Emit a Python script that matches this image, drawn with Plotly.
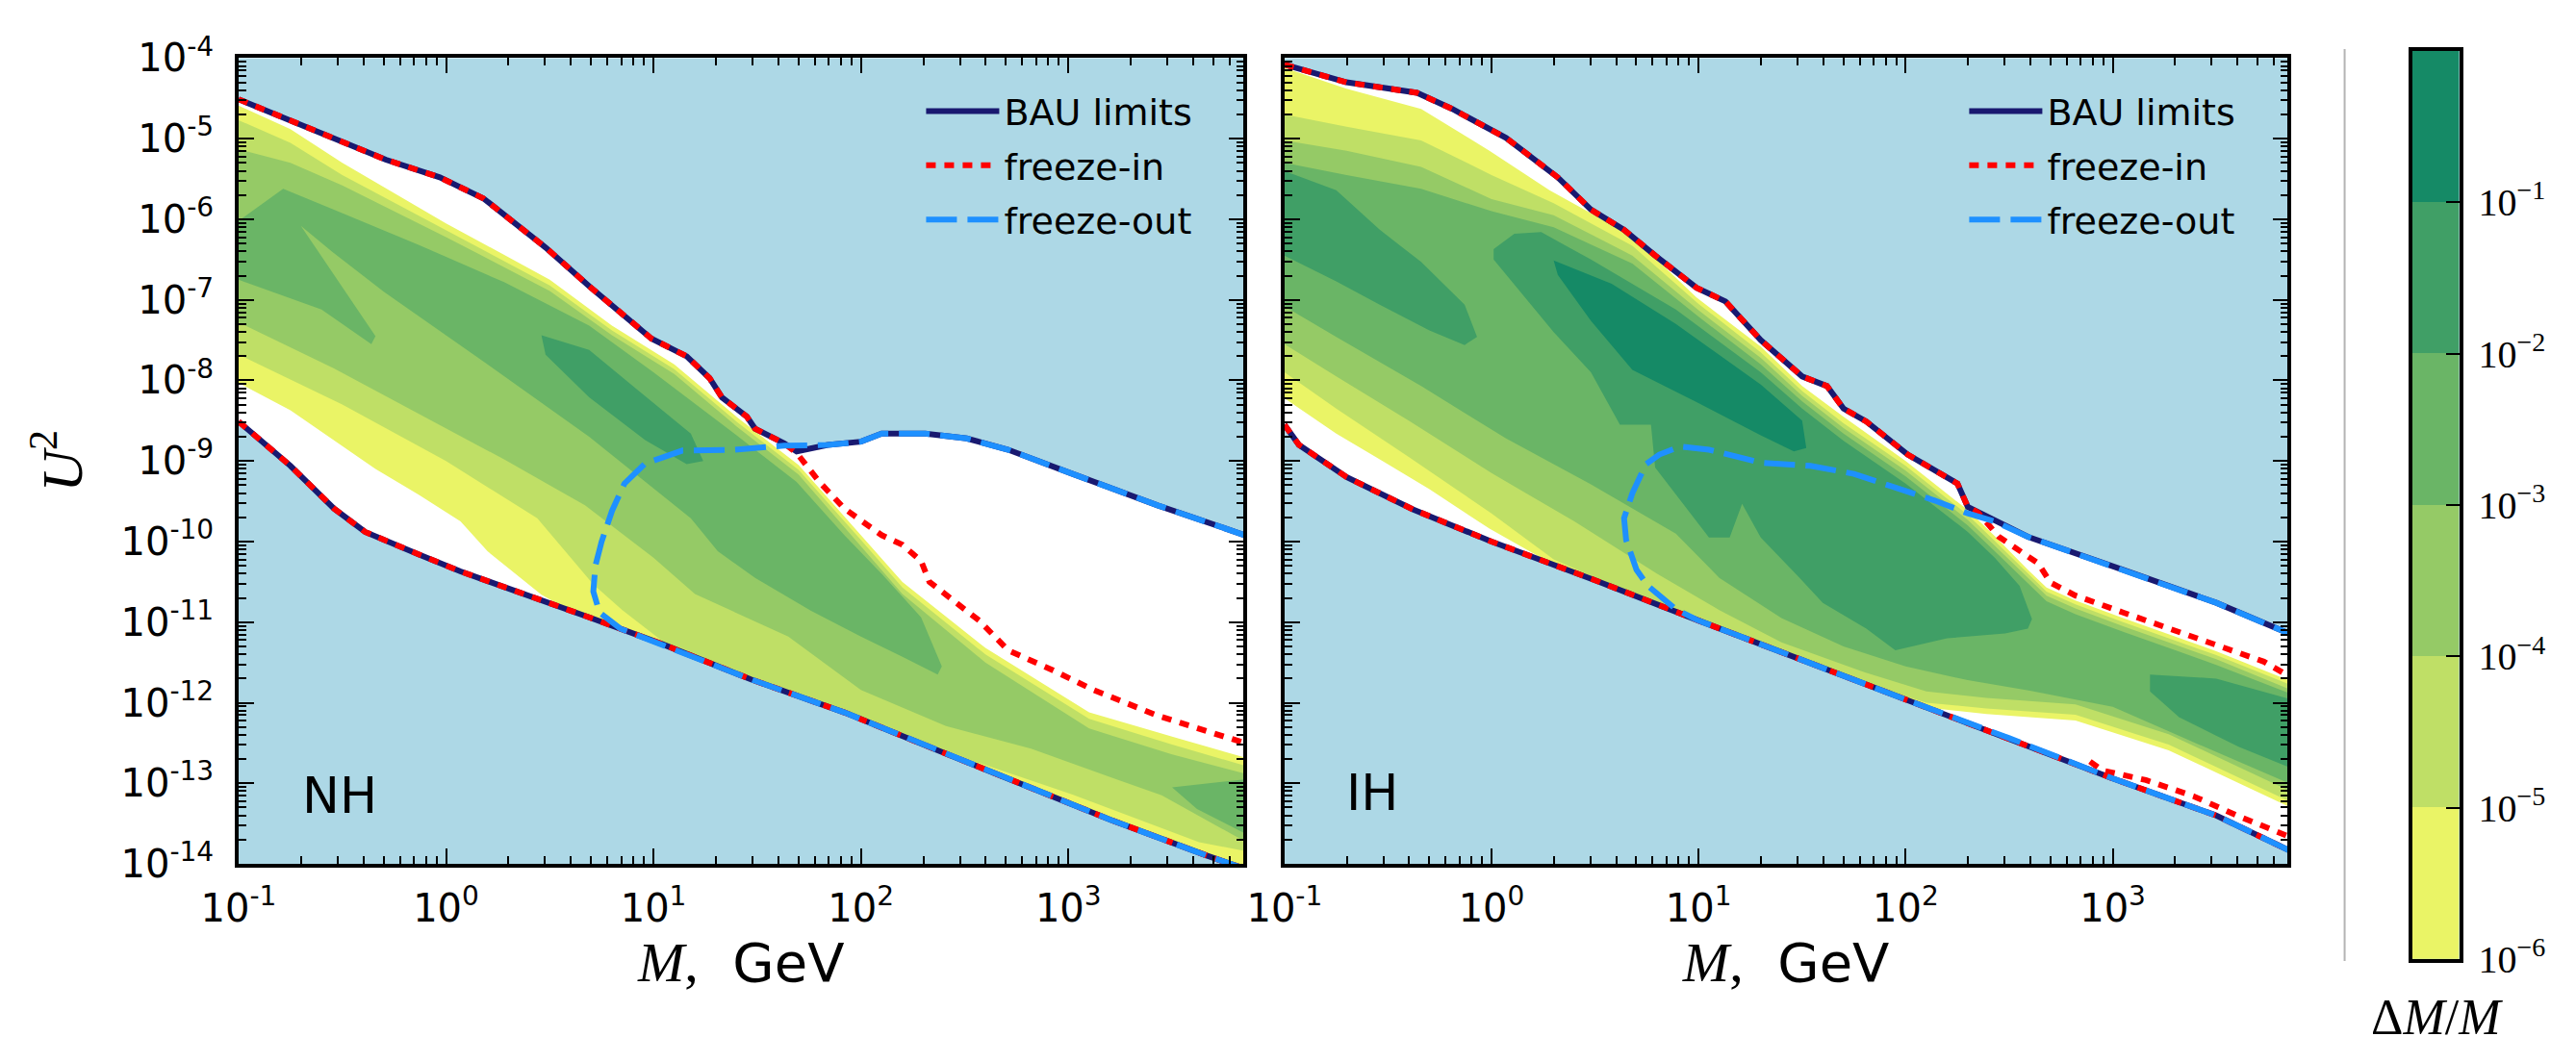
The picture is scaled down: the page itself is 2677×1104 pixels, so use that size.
import math
import plotly.graph_objects as go

# All curve / region vertices are given as (log10 M[GeV], log10 U^2)

# ---------------- Normal hierarchy (NH) ----------------
NH_BAU_UPPER = [(-1.00, -4.51), (-0.75, -4.77), (-0.29, -5.26), (-0.03, -5.48), (0.18, -5.74),
                (0.48, -6.35), (0.69, -6.83), (0.99, -7.48), (1.16, -7.70), (1.27, -7.97),
                (1.33, -8.21), (1.45, -8.45), (1.49, -8.60), (1.63, -8.78), (1.69, -8.88),
                (1.84, -8.80), (2.00, -8.76), (2.10, -8.66), (2.31, -8.66), (2.51, -8.72),
                (2.71, -8.86), (3.02, -9.16), (3.43, -9.55), (3.85, -9.92)]
NH_BAU_LOWER = [(-1.00, -8.51), (-0.75, -9.06), (-0.54, -9.59), (-0.39, -9.88), (-0.13, -10.16),
                (0.07, -10.37), (0.69, -10.94), (1.04, -11.27), (1.47, -11.71), (1.92, -12.12),
                (2.35, -12.57), (2.78, -13.01), (3.20, -13.45), (3.67, -13.90), (3.85, -14.06)]
NH_FREEZE_IN_BRANCH = [(1.69, -8.90), (1.80, -9.26), (1.92, -9.59), (2.10, -9.92), (2.20, -10.04),
                       (2.29, -10.24), (2.33, -10.50), (2.47, -10.78), (2.57, -10.98), (2.71, -11.35),
                       (2.92, -11.59), (3.12, -11.84), (3.43, -12.16), (3.85, -12.50)]
NH_FREEZE_OUT_ARC = [(0.84, -11.08), (0.74, -10.88), (0.71, -10.62), (0.72, -10.30), (0.75, -10.00),
                     (0.80, -9.62), (0.86, -9.28), (0.96, -9.03), (1.14, -8.87), (1.39, -8.86),
                     (1.63, -8.81), (1.84, -8.80)]

# regions with Delta M / M above 1e-6, 1e-5, ... (nested bands)
NH_BAND_1 = [(-1.00, -4.59), (-0.75, -4.88), (-0.50, -5.30), (0.00, -6.05), (0.50, -6.75), (0.80, -7.32),
             (1.10, -7.80), (1.40, -8.45), (1.70, -9.05), (2.00, -9.92), (2.20, -10.50), (2.60, -11.32),
             (3.10, -12.12), (3.50, -12.42), (3.85, -12.68),
             (3.85, -14.06), (3.67, -13.90), (3.20, -13.45), (2.78, -13.01), (2.35, -12.57), (1.92, -12.12),
             (1.47, -11.71), (1.04, -11.27), (0.69, -10.94), (0.60, -10.86), (0.46, -10.66), (0.20, -10.12),
             (0.07, -9.75), (-0.13, -9.42), (-0.34, -9.10), (-0.54, -8.74), (-0.75, -8.37), (-1.00, -8.03)]
NH_BAND_2 = [(-1.00, -4.77), (-0.75, -5.05), (-0.50, -5.45), (0.00, -6.13), (0.50, -6.82), (0.80, -7.38),
             (1.10, -7.86), (1.40, -8.51), (1.70, -9.11), (2.00, -9.98), (2.20, -10.57), (2.60, -11.40),
             (3.10, -12.20), (3.50, -12.52), (3.85, -12.78),
             (3.85, -13.84), (3.63, -13.73), (3.02, -13.14), (2.55, -12.73), (2.35, -12.53), (1.92, -12.08),
             (1.47, -11.67), (1.04, -11.23), (0.85, -10.85), (0.71, -10.53), (0.44, -9.71), (0.00, -9.00),
             (-0.50, -8.30), (-1.00, -7.68)]
NH_BAND_3 = [(-1.00, -5.13), (-0.75, -5.30), (-0.50, -5.58), (0.00, -6.22), (0.50, -6.89), (0.80, -7.44),
             (1.10, -7.92), (1.40, -8.57), (1.70, -9.17), (2.00, -10.05), (2.20, -10.65), (2.60, -11.50),
             (3.10, -12.32), (3.50, -12.64), (3.85, -12.88),
             (3.85, -13.72), (3.45, -13.15), (3.22, -12.94), (2.82, -12.57), (2.41, -12.29), (2.00, -11.84),
             (1.65, -11.18), (1.20, -10.65), (1.00, -10.20), (0.80, -9.80), (0.67, -9.55), (0.28, -8.98),
             (-0.13, -8.42), (-0.54, -7.85), (-1.00, -7.28)]
NH_BAND_4 = [(-1.00, -6.02), (-0.785, -5.62), (-0.54, -5.88), (-0.13, -6.32), (0.28, -6.78), (0.69, -7.32),
             (1.00, -7.90), (1.39, -8.66), (1.69, -9.26), (1.92, -9.92), (2.10, -10.40), (2.29, -10.94),
             (2.39, -11.55), (2.37, -11.65), (2.20, -11.43), (2.00, -11.18), (1.76, -10.86), (1.49, -10.45),
             (1.31, -10.12), (1.18, -9.71), (0.69, -8.70), (0.20, -7.80), (-0.30, -6.90), (-0.55, -6.40),
             (-0.70, -6.08), (-0.50, -6.85), (-0.34, -7.45), (-0.36, -7.55), (-0.60, -7.12), (-1.00, -6.75)]
NH_BAND_4B = [(3.50, -13.05), (3.85, -12.95), (3.85, -13.62), (3.62, -13.32)]
NH_BAND_5 = [(0.46, -7.44), (0.69, -7.62), (0.93, -8.13), (1.18, -8.66), (1.24, -9.00), (1.16, -9.04),
             (0.96, -8.74), (0.69, -8.21), (0.48, -7.68)]

# ---------------- Inverted hierarchy (IH) ----------------
IH_BAU_UPPER = [(-1.00, -4.08), (-0.70, -4.30), (-0.36, -4.43), (-0.19, -4.63), (0.07, -4.99),
                (0.32, -5.48), (0.48, -5.88), (0.64, -6.13), (0.79, -6.45), (0.99, -6.85),
                (1.13, -7.02), (1.30, -7.50), (1.50, -7.95), (1.62, -8.07), (1.70, -8.35),
                (1.81, -8.51), (2.01, -8.92), (2.25, -9.28), (2.30, -9.57), (2.43, -9.73),
                (2.59, -9.94), (3.05, -10.35), (3.50, -10.76), (3.85, -11.14)]
IH_BAU_LOWER = [(-1.00, -8.55), (-0.93, -8.80), (-0.70, -9.20), (-0.38, -9.60), (0.00, -10.00),
                (0.50, -10.48), (1.00, -10.98), (1.50, -11.47), (2.00, -11.96), (2.50, -12.44),
                (3.00, -12.94), (3.50, -13.40), (3.85, -13.83)]
IH_FREEZE_IN_BRANCH = [(2.35, -9.64), (2.45, -9.94), (2.64, -10.27), (2.70, -10.51), (2.82, -10.67),
                       (3.05, -10.88), (3.27, -11.08), (3.50, -11.29), (3.73, -11.49), (3.85, -11.67)]
IH_FREEZE_IN_LOW = [(2.89, -12.73), (2.95, -12.84), (3.16, -12.96), (3.39, -13.16), (3.61, -13.41),
                    (3.85, -13.66)]
IH_FREEZE_OUT_ARC = [(0.99, -10.97), (0.89, -10.84), (0.81, -10.67), (0.755, -10.55), (0.70, -10.35),
                     (0.65, -9.98), (0.64, -9.71), (0.68, -9.40), (0.745, -9.04), (0.81, -8.92),
                     (0.91, -8.82), (1.05, -8.86), (1.30, -9.02), (1.54, -9.06), (1.75, -9.16),
                     (1.91, -9.30), (2.14, -9.49), (2.30, -9.65), (2.43, -9.75)]

IH_BAND_1 = [(-1.00, -4.12), (-0.70, -4.38), (-0.34, -4.63), (-0.01, -5.15), (0.28, -5.64), (0.68, -6.21),
             (0.99, -6.97), (1.30, -7.58), (1.50, -8.07), (1.70, -8.45), (2.00, -9.00), (2.14, -9.28),
             (2.30, -9.61), (2.43, -9.93), (2.59, -10.35), (2.68, -10.57), (2.82, -10.73), (3.05, -10.95),
             (3.27, -11.15), (3.50, -11.36), (3.85, -11.72),
             (3.85, -13.29), (3.61, -13.00), (3.27, -12.59), (2.82, -12.22), (2.39, -12.14), (2.10, -12.06),
             (1.95, -11.92), (1.50, -11.47), (1.00, -10.98), (0.50, -10.48), (0.30, -10.29), (-0.01, -9.84),
             (-0.30, -9.35), (-0.54, -8.98), (-0.75, -8.66), (-1.00, -8.22)]
IH_BAND_2 = [(-1.00, -4.70), (-0.70, -4.85), (-0.34, -5.02), (0.00, -5.45), (0.30, -5.80), (0.68, -6.33),
             (1.00, -7.05), (1.30, -7.65), (1.50, -8.13), (1.70, -8.53), (2.00, -9.06), (2.14, -9.34),
             (2.30, -9.67), (2.43, -9.99), (2.59, -10.40), (2.68, -10.62), (2.82, -10.78), (3.05, -11.00),
             (3.27, -11.20), (3.50, -11.41), (3.85, -11.77),
             (3.85, -13.22), (3.61, -12.93), (3.27, -12.52), (2.82, -12.15), (2.39, -12.07), (2.10, -12.00),
             (1.95, -11.88), (1.50, -11.45), (1.00, -10.96), (0.60, -10.56), (0.30, -10.22), (0.00, -9.65),
             (-0.40, -8.95), (-0.75, -8.35), (-1.00, -7.90)]
IH_BAND_3 = [(-1.00, -5.02), (-0.70, -5.15), (-0.34, -5.35), (0.00, -5.75), (0.30, -5.95), (0.68, -6.45),
             (1.00, -7.13), (1.30, -7.72), (1.50, -8.19), (1.70, -8.59), (2.00, -9.12), (2.14, -9.40),
             (2.30, -9.73), (2.43, -10.05), (2.59, -10.45), (2.68, -10.67), (2.82, -10.83), (3.05, -11.05),
             (3.27, -11.25), (3.50, -11.46), (3.85, -11.83),
             (3.85, -13.09), (3.61, -12.80), (3.27, -12.39), (2.82, -12.02), (2.39, -11.94), (2.10, -11.86),
             (1.80, -11.62), (1.40, -11.25), (1.10, -10.85), (0.80, -10.40), (0.40, -9.75), (0.00, -9.15),
             (-0.40, -8.50), (-0.75, -7.95), (-1.00, -7.55)]
IH_BAND_4 = [(-1.00, -5.30), (-0.70, -5.45), (-0.34, -5.62), (0.00, -5.90), (0.30, -6.10), (0.68, -6.55),
             (1.00, -7.21), (1.30, -7.80), (1.50, -8.26), (1.70, -8.66), (2.00, -9.19), (2.14, -9.47),
             (2.30, -9.80), (2.43, -10.12), (2.59, -10.52), (2.68, -10.74), (2.82, -10.90), (3.05, -11.12),
             (3.27, -11.32), (3.50, -11.53), (3.85, -11.88),
             (3.85, -13.00), (3.40, -12.50), (3.00, -12.05), (2.60, -11.85), (2.30, -11.72), (2.00, -11.55),
             (1.70, -11.30), (1.40, -10.95), (1.10, -10.45), (0.89, -9.90), (0.48, -9.29), (0.07, -8.72),
             (-0.34, -8.07), (-0.75, -7.46), (-1.00, -7.08)]
IH_BAND_5 = [(0.01, -6.37), (0.11, -6.18), (0.24, -6.16), (0.48, -6.50), (0.89, -7.12), (1.30, -7.90),
             (1.50, -8.35), (1.70, -8.75), (2.00, -9.28), (2.14, -9.56), (2.30, -9.88), (2.43, -10.20),
             (2.55, -10.55), (2.61, -10.96), (2.59, -11.08), (2.48, -11.14), (2.20, -11.20), (1.95, -11.35),
             (1.81, -11.08), (1.60, -10.76), (1.48, -10.43), (1.30, -9.95), (1.21, -9.53), (1.15, -9.95),
             (1.05, -9.95), (0.79, -9.08), (0.77, -8.55), (0.62, -8.55), (0.48, -7.90), (0.30, -7.40),
             (0.14, -6.90), (0.01, -6.50)]
IH_BAND_5B = [(-1.00, -5.40), (-0.75, -5.64), (-0.54, -6.13), (-0.34, -6.53), (-0.13, -7.06), (-0.07, -7.46),
              (-0.13, -7.56), (-0.30, -7.38), (-0.54, -7.06), (-0.75, -6.77), (-1.00, -6.45)]
IH_BAND_5C = [(3.18, -11.65), (3.50, -11.70), (3.85, -11.95), (3.85, -12.80), (3.61, -12.55), (3.32, -12.18),
              (3.18, -11.86)]
IH_BAND_6 = [(0.30, -6.51), (0.58, -6.80), (0.89, -7.30), (1.30, -8.05), (1.50, -8.50), (1.52, -8.84),
             (1.46, -8.88), (1.30, -8.68), (0.99, -8.27), (0.68, -7.87), (0.48, -7.26), (0.32, -6.69)]

# Delta M / M levels (log10) and fill colours of the bands between them
LEVELS = [-6, -5, -4, -3, -2, -1, 0]
BAND_COLORS = ["rgb(234,244,102)", "rgb(191,223,102)", "rgb(149,202,102)",
               "rgb(106,181,102)", "rgb(64,159,102)", "rgb(21,138,102)"]

X_RANGE = [-1.0, math.log10(7000.0)]
Y_RANGE = [-14.0, -4.0]

NAVY = "#191970"
RED = "#ff0000"
BLUE = "#1e90ff"
SKY = "#add8e6"


def xy(points):
    return [10 ** p[0] for p in points], [10 ** p[1] for p in points]


fig = go.Figure()


def add_fill(points, color, xa, ya):
    x, y = xy(points)
    fig.add_trace(go.Scatter(x=x, y=y, mode="lines", fill="toself", fillcolor=color,
                             line=dict(width=0, color=color), hoverinfo="skip",
                             showlegend=False, xaxis=xa, yaxis=ya))


def add_line(points, color, dash, xa, ya, name=None, legend="legend", width=6):
    x, y = xy(points)
    fig.add_trace(go.Scatter(x=x, y=y, mode="lines", name=name or "",
                             line=dict(color=color, width=width, dash=dash),
                             showlegend=name is not None, legend=legend, legendgroup=name,
                             hoverinfo="skip", xaxis=xa, yaxis=ya))


def panel(upper, lower, fi_branch, fi_split, fo_arc, fo_lo, fo_hi, bands, xa, ya, legend, extra_fi=None):
    # allowed region between the BAU limits
    add_fill(upper + lower[::-1], "white", xa, ya)
    for pts, level in bands:
        add_fill(pts, BAND_COLORS[level], xa, ya)
    # BAU limits
    add_line(upper, NAVY, "solid", xa, ya, name="BAU limits", legend=legend)
    add_line(lower, NAVY, "solid", xa, ya, legend=legend)
    # freeze-in
    fi_upper = [p for p in upper if p[0] < fi_split] + fi_branch
    add_line(fi_upper, RED, "10px,9px", xa, ya, name="freeze-in", legend=legend)
    add_line(lower, RED, "10px,9px", xa, ya, legend=legend)
    if extra_fi:
        add_line(extra_fi, RED, "10px,9px", xa, ya, legend=legend)
    # freeze-out
    fo = [p for p in lower if p[0] > fo_lo][::-1] + fo_arc + [p for p in upper if p[0] > fo_hi]
    add_line(fo, BLUE, "32px,11px", xa, ya, name="freeze-out", legend=legend)


panel(NH_BAU_UPPER, NH_BAU_LOWER, NH_FREEZE_IN_BRANCH, 1.65, NH_FREEZE_OUT_ARC, 0.84, 1.84,
      [(NH_BAND_1, 0), (NH_BAND_2, 1), (NH_BAND_3, 2), (NH_BAND_4, 3), (NH_BAND_4B, 3), (NH_BAND_5, 4)],
      "x", "y", "legend")
panel(IH_BAU_UPPER, IH_BAU_LOWER, IH_FREEZE_IN_BRANCH, 2.32, IH_FREEZE_OUT_ARC, 0.99, 2.45,
      [(IH_BAND_1, 0), (IH_BAND_2, 1), (IH_BAND_3, 2), (IH_BAND_4, 3), (IH_BAND_5, 4),
       (IH_BAND_5B, 4), (IH_BAND_5C, 4), (IH_BAND_6, 5)],
      "x2", "y2", "legend2", extra_fi=IH_FREEZE_IN_LOW)

# colour scale strip
fig.add_trace(go.Heatmap(x=[0, 1], y=LEVELS, z=[[i] for i in range(6)],
                         colorscale=[[i / 5, c] for i, c in enumerate(BAND_COLORS)],
                         zmin=0, zmax=5, showscale=False, hoverinfo="skip",
                         xaxis="x3", yaxis="y3"))

W, H = 2677, 1104
TICK_FONT = dict(family="DejaVu Sans", size=40, color="black")
SERIF = "Liberation Serif"

x_major = [0.1, 1, 10, 100, 1000]
x_text = ["10<sup>-1</sup>", "10<sup>0</sup>", "10<sup>1</sup>", "10<sup>2</sup>", "10<sup>3</sup>"]
x_minor = [m * 10 ** k for k in range(-1, 4) for m in range(2, 10) if m * 10 ** k <= 7000]
y_major = [10 ** k for k in range(-14, -3)]
y_text = ["10<sup>%d</sup>" % k for k in range(-14, -3)]
y_minor = [m * 10 ** k for k in range(-14, -4) for m in range(2, 10)]


def log_axis(rng, vals, text, minor_vals, standoff, show_labels=True):
    return dict(type="log", range=rng, tickmode="array", tickvals=vals,
                ticktext=text if show_labels else [""] * len(vals),
                showticklabels=show_labels, ticks="inside", ticklen=16, tickwidth=2,
                tickcolor="black", showline=True, linewidth=3.5, linecolor="black",
                mirror="ticks", showgrid=False, zeroline=False, tickfont=TICK_FONT,
                ticklabelstandoff=standoff,
                minor=dict(tickmode="array", tickvals=minor_vals, ticks="inside", ticklen=8,
                           tickwidth=1.5, tickcolor="black", showgrid=False))


x_title = dict(text='<span style="font-family:Liberation Serif;font-size:58px"><i>M</i>,</span>\u00a0 GeV',
               font=dict(family="DejaVu Sans", size=56, color="black"), standoff=16)

xa1 = log_axis(X_RANGE, x_major, x_text, x_minor, 8)
xa1.update(domain=[212 / W, 1272 / W], anchor="y", title=x_title)
xa2 = log_axis(X_RANGE, x_major, x_text, x_minor, 8)
xa2.update(domain=[1315 / W, 2373 / W], anchor="y2", title=x_title)
ya1 = log_axis(Y_RANGE, y_major, y_text, y_minor, 14)
ya1.update(domain=[1 - 912 / H, 1 - 33 / H], anchor="x",
           title=dict(text="<i>U</i><sup>2</sup>", font=dict(family=SERIF, size=60, color="black"),
                      standoff=22))
ya2 = log_axis(Y_RANGE, y_major, y_text, y_minor, 14, show_labels=False)
ya2.update(domain=[1 - 912 / H, 1 - 33 / H], anchor="x2")

legend_style = dict(bgcolor="rgba(0,0,0,0)", borderwidth=0, xanchor="left", yanchor="top",
                    font=dict(family="DejaVu Sans", size=38, color="black"), tracegroupgap=4,
                    itemwidth=76)

cb_ticks = LEVELS[:-1]
cb_text = ["10<sup>\u2212%d</sup>" % (-k) for k in cb_ticks]

fig.update_layout(
    width=W, height=H, margin=dict(l=0, r=0, t=0, b=0),
    paper_bgcolor="white", plot_bgcolor=SKY,
    xaxis=xa1, yaxis=ya1, xaxis2=xa2, yaxis2=ya2,
    xaxis3=dict(domain=[2504 / W, 2554 / W], range=[0, 1], anchor="y3", showticklabels=False,
                ticks="", showgrid=False, zeroline=False, showline=True, linewidth=3.5,
                linecolor="black", mirror=True),
    yaxis3=dict(domain=[1 - 1016 / H, 1 - 25 / H], range=[-6, 0], anchor="x3", side="right",
                tickmode="array", tickvals=cb_ticks, ticktext=cb_text, ticks="inside",
                ticklen=14, tickwidth=2, tickcolor="black", showgrid=False, zeroline=False,
                showline=True, linewidth=3.5, linecolor="black", mirror=True,
                tickfont=dict(family=SERIF, size=40, color="black"), ticklabelstandoff=8),
    legend=dict(x=932 / W, y=1 - 58 / H, **legend_style),
    legend2=dict(x=2032 / W, y=1 - 58 / H, **legend_style),
    showlegend=True,
    shapes=[dict(type="line", xref="paper", yref="paper", x0=2433 / W, x1=2433 / W,
                 y0=1 - 1018 / H, y1=1 - 23 / H, line=dict(color="#b4b4b4", width=2))],
    annotations=[
        dict(text="NH", x=319 / W, y=1 - 837 / H, xref="paper", yref="paper", showarrow=False,
             xanchor="center", yanchor="middle",
             font=dict(family="DejaVu Sans", size=52, color="black")),
        dict(text="IH", x=1408 / W, y=1 - 834 / H, xref="paper", yref="paper", showarrow=False,
             xanchor="center", yanchor="middle",
             font=dict(family="DejaVu Sans", size=52, color="black")),
        dict(text="\u0394<i>M</i>/<i>M</i>", x=2530 / W, y=1 - 1079 / H, xref="paper", yref="paper",
             showarrow=False, xanchor="center", yanchor="middle",
             font=dict(family=SERIF, size=52, color="black")),
    ],
)

fig.write_html("out.html")
